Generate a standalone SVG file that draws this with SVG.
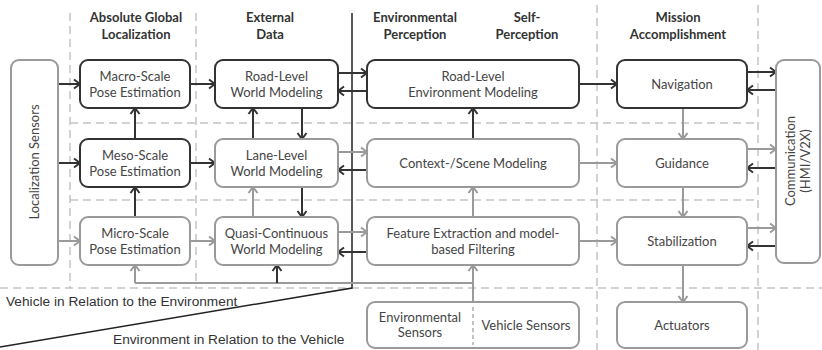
<svg xmlns="http://www.w3.org/2000/svg" width="822" height="350" viewBox="0 0 822 350">
<style>
.bd{fill:#fff;stroke:#333;stroke-width:2}
.bg{fill:#fff;stroke:#9a9a9a;stroke-width:2}
.t{font-family:Lato,"Open Sans",sans-serif;font-size:13px;fill:#454545;text-anchor:middle}
.h{font-family:Lato,"Open Sans",sans-serif;font-size:13px;font-weight:bold;fill:#333;text-anchor:middle}
.a{font-family:"Liberation Sans",Arial,sans-serif;font-size:13.7px;fill:#333}
.cd{stroke:#333;stroke-width:2;fill:none;marker-end:url(#ad)}
.cg{stroke:#9a9a9a;stroke-width:2;fill:none;marker-end:url(#ag)}
.ln{stroke:#9a9a9a;stroke-width:2;fill:none}
.ds{stroke:#c4c4c4;stroke-width:1.5;stroke-dasharray:8 5;fill:none}
</style>
<defs>
<marker id="ad" markerUnits="userSpaceOnUse" markerWidth="12" markerHeight="12" refX="9" refY="6" orient="auto"><path d="M3,1.5 L9,6 L3,10.5" fill="none" stroke="#333" stroke-width="2"/></marker>
<marker id="ag" markerUnits="userSpaceOnUse" markerWidth="12" markerHeight="12" refX="9" refY="6" orient="auto"><path d="M3,1.5 L9,6 L3,10.5" fill="none" stroke="#9a9a9a" stroke-width="2"/></marker>
</defs>
<rect width="822" height="350" fill="#fff"/>
<g id="grid">
<path class="ds" d="M70,13 V288 M196,13 V288 M597,5 V350 M758,5 V350"/>
<path class="ds" d="M70,123 H758 M70,200 H758 M0,288 H822"/>
<path d="M352,13 V288 L0,347" stroke="#222" stroke-width="1.5" fill="none"/>
</g>
<g id="headers">
<text class="h" x="136" y="22">Absolute Global</text>
<text class="h" x="136" y="39">Localization</text>
<text class="h" x="270" y="22">External</text>
<text class="h" x="270" y="39">Data</text>
<text class="h" x="415" y="22">Environmental</text>
<text class="h" x="415" y="39">Perception</text>
<text class="h" x="527" y="22">Self-</text>
<text class="h" x="527" y="39">Perception</text>
<text class="h" x="678" y="22">Mission</text>
<text class="h" x="678" y="39">Accomplishment</text>
<text class="a" x="6" y="306">Vehicle in Relation to the Environment</text>
<text class="a" x="113" y="344">Environment in Relation to the Vehicle</text>
</g>
<g id="connectors">
<path class="cd" d="M58,84 H80"/>
<path class="cd" d="M58,163 H80"/>
<path class="cg" d="M58,241 H80"/>
<path class="cd" d="M190,84 H215"/>
<path class="cd" d="M190,163 H215"/>
<path class="cg" d="M190,241 H215"/>
<path class="cd" d="M135,139 V108"/>
<path class="cd" d="M135,217 V187"/>
<path class="cd" d="M253,139 V108"/>
<path class="cd" d="M302,108 V139"/>
<path class="cg" d="M253,217 V187"/>
<path class="cd" d="M302,187 V217"/>
<path class="cd" d="M338,73 H367"/>
<path class="cd" d="M367,91 H338"/>
<path class="cg" d="M338,152 H367"/>
<path class="cd" d="M367,170 H338"/>
<path class="cg" d="M338,232 H367"/>
<path class="cd" d="M367,252 H338"/>
<path class="cd" d="M473,139 V108"/>
<path class="cg" d="M473,217 V187"/>
<path class="cg" d="M473,302 V265"/>
<path class="ln" d="M473,283 H135"/>
<path class="cg" d="M135,283 V265"/>
<path class="cd" d="M277,283 V265"/>
<path class="cd" d="M579,84 H617"/>
<path class="cg" d="M579,163 H617"/>
<path class="cg" d="M579,241 H617"/>
<path class="cg" d="M683,108 V139"/>
<path class="cg" d="M683,187 V217"/>
<path class="cg" d="M683,265 V302"/>
<path class="cd" d="M747,72 H776"/>
<path class="cd" d="M776,90 H747"/>
<path class="cg" d="M747,149 H776"/>
<path class="cd" d="M776,168 H747"/>
<path class="cg" d="M747,228 H776"/>
<path class="cd" d="M776,246 H747"/>
</g>
<g id="localization-sensors">
<rect class="bg" x="11" y="60" width="47" height="205" rx="8"/>
<text class="t" transform="translate(39,162) rotate(-90)">Localization Sensors</text>
</g>
<g id="macro-scale">
<rect class="bd" x="80" y="60" width="110" height="48" rx="8"/>
<text class="t" x="135" y="81">Macro-Scale</text>
<text class="t" x="135" y="97">Pose Estimation</text>
</g>
<g id="meso-scale">
<rect class="bd" x="80" y="139" width="110" height="48" rx="8"/>
<text class="t" x="135" y="160">Meso-Scale</text>
<text class="t" x="135" y="176">Pose Estimation</text>
</g>
<g id="micro-scale">
<rect class="bg" x="80" y="217" width="110" height="48" rx="8"/>
<text class="t" x="135" y="238">Micro-Scale</text>
<text class="t" x="135" y="254">Pose Estimation</text>
</g>
<g id="road-level-world">
<rect class="bd" x="215" y="60" width="123" height="48" rx="8"/>
<text class="t" x="276.5" y="81">Road-Level</text>
<text class="t" x="276.5" y="97">World Modeling</text>
</g>
<g id="lane-level-world">
<rect class="bg" x="215" y="139" width="123" height="48" rx="8"/>
<text class="t" x="276.5" y="160">Lane-Level</text>
<text class="t" x="276.5" y="176">World Modeling</text>
</g>
<g id="quasi-continuous">
<rect class="bg" x="215" y="217" width="123" height="48" rx="8"/>
<text class="t" x="276.5" y="238">Quasi-Continuous</text>
<text class="t" x="276.5" y="254">World Modeling</text>
</g>
<g id="road-level-env">
<rect class="bd" x="367" y="60" width="212" height="48" rx="8"/>
<text class="t" x="473" y="81">Road-Level</text>
<text class="t" x="473" y="97">Environment Modeling</text>
</g>
<g id="context-scene">
<rect class="bg" x="367" y="139" width="212" height="48" rx="8"/>
<text class="t" x="473" y="168">Context-/Scene Modeling</text>
</g>
<g id="feature-extraction">
<rect class="bg" x="367" y="217" width="212" height="48" rx="8"/>
<text class="t" x="473" y="238">Feature Extraction and model-</text>
<text class="t" x="473" y="254">based Filtering</text>
</g>
<g id="sensors">
<rect class="bg" x="367" y="302" width="212" height="46" rx="8"/>
<path d="M473,307 V345" stroke="#9a9a9a" stroke-width="1.2" stroke-dasharray="4 3"/>
<text class="t" x="420" y="322">Environmental</text>
<text class="t" x="420" y="337">Sensors</text>
<text class="t" x="526" y="330">Vehicle Sensors</text>
</g>
<g id="navigation">
<rect class="bd" x="617" y="60" width="130" height="48" rx="8"/>
<text class="t" x="682" y="89">Navigation</text>
</g>
<g id="guidance">
<rect class="bg" x="617" y="139" width="130" height="48" rx="8"/>
<text class="t" x="682" y="168">Guidance</text>
</g>
<g id="stabilization">
<rect class="bg" x="617" y="217" width="130" height="48" rx="8"/>
<text class="t" x="682" y="246">Stabilization</text>
</g>
<g id="actuators">
<rect class="bg" x="617" y="302" width="130" height="46" rx="8"/>
<text class="t" x="682" y="330">Actuators</text>
</g>
<g id="communication">
<rect class="bg" x="776" y="60" width="44" height="203" rx="8"/>
<text class="t" transform="translate(795,161) rotate(-90)">Communication</text>
<text class="t" transform="translate(810,161) rotate(-90)">(HMI/V2X)</text>
</g>
</svg>
